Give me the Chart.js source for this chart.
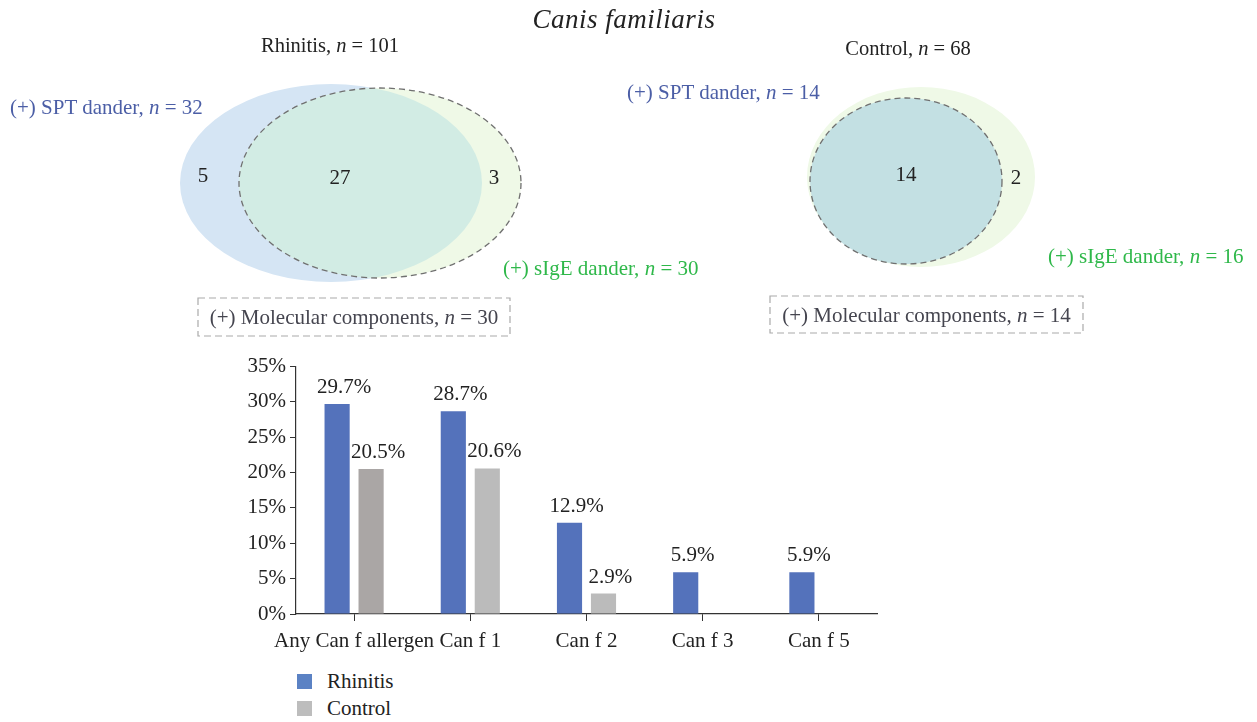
<!DOCTYPE html>
<html>
<head>
<meta charset="utf-8">
<script src="https://cdn.jsdelivr.net/npm/chart.js@4.4.1/dist/chart.umd.min.js"></script>
<style>
body { margin: 0; background: #fff; font-family: "Liberation Serif", serif; }
#page { position: relative; width: 1257px; height: 722px; overflow: hidden; }
.lbl { position: absolute; white-space: nowrap; font-size: 21px; line-height: 1; transform: translateY(-50%); }
.ctr { transform: translate(-50%, -50%); }
.spt { color: #4b5ea6; }
.sige { color: #2fb84a; }
.mol { color: #45454f; }
.grp { color: #222; font-size: 20.5px; }
#title { font-style: italic; font-size: 27px; color: #222; letter-spacing: 0.5px; }
#vennCanvas { position: absolute; left: 0; top: 0; }
#barWrap { position: absolute; left: 230px; top: 350px; width: 660px; height: 310px; }
#legend { position: absolute; left: 297px; top: 668px; font-size: 21px; color: #222; }
.leg-item { display: flex; align-items: center; height: 27px; }
.leg-box { width: 15px; height: 15px; margin-right: 15px; }
</style>
</head>
<body>
<div id="page">
  <canvas id="vennCanvas" width="1257" height="345"></canvas>
  <div id="labels"></div>
  <div id="barWrap"><canvas id="barChart"></canvas></div>
  <div id="legend"></div>
</div>
<script>
// Venn counts
const groups = ["Rhinitis", "Control"];
const groupN = [101, 68];
const sptN = [32, 14];
const sigeN = [30, 16];
const molecularN = [30, 14];
const sptOnly = [5, null];
const sptAndSige = [27, 14];
const sigeOnly = [3, 2];

// bar chart data
const allergens = ["Any Can f allergen", "Can f 1", "Can f 2", "Can f 3", "Can f 5"];
const rhinitisPct = [29.7, 28.7, 12.9, 5.9, 5.9];
const controlPct = [20.5, 20.6, 2.9, 0, 0];
const yTickValues = [0, 5, 10, 15, 20, 25, 30, 35];

const blue = "#5472bb";
const controlColors = ["#aaa6a5", "#bbbbbb", "#bbbbbb", "#bbbbbb", "#bbbbbb"];

// layout of the two venn diagrams (pixels)
const vennLayout = [
  {
    outer: { cx: 331, cy: 183, rx: 151, ry: 99, fill: "#d5e5f4" },
    inner: { cx: 380, cy: 183, rx: 141, ry: 95, fill: "#eff9e7" },
    overlapFill: "#d2ece4",
    countPos: [[203, 176], [340, 178], [494, 178]],
    title: [330, 45], spt: [10, 107], sige: [503, 268],
    box: { x: 198, y: 298, w: 312, h: 38 }
  },
  {
    outer: { cx: 921, cy: 177, rx: 114, ry: 90, fill: "#eff9e7" },
    inner: { cx: 906, cy: 181, rx: 96, ry: 83, fill: "#c3e0e3" },
    overlapFill: null,
    countPos: [[0, 0], [906, 175], [1016, 178]],
    title: [908, 48], spt: [627, 92], sige: [1048, 256],
    box: { x: 770, y: 296, w: 313, h: 37 }
  }
];

function addLabel(html, x, y, cls, centered) {
  const d = document.createElement("div");
  d.className = "lbl " + cls + (centered ? " ctr" : "");
  d.style.left = x + "px";
  d.style.top = y + "px";
  d.innerHTML = html;
  document.getElementById("labels").appendChild(d);
  return d;
}

addLabel("Canis familiaris", 624, 19, "", true).id = "title";

groups.forEach(function (g, i) {
  const L = vennLayout[i];
  addLabel(g + ", <i>n</i> = " + groupN[i], L.title[0], L.title[1], "grp", true);
  addLabel("(+) SPT dander, <i>n</i> = " + sptN[i], L.spt[0], L.spt[1], "spt", false);
  addLabel("(+) sIgE dander, <i>n</i> = " + sigeN[i], L.sige[0], L.sige[1], "sige", false);
  addLabel("(+) Molecular components, <i>n</i> = " + molecularN[i],
    L.box.x + L.box.w / 2, L.box.y + L.box.h / 2, "mol", true);
});

function ellipsePath(ctx, xs, ys, e) {
  const cx = xs.getPixelForValue(e.cx), cy = ys.getPixelForValue(e.cy);
  const rx = Math.abs(xs.getPixelForValue(e.cx + e.rx) - cx);
  const ry = Math.abs(ys.getPixelForValue(e.cy + e.ry) - cy);
  ctx.beginPath();
  ctx.ellipse(cx, cy, rx, ry, 0, 0, Math.PI * 2);
}

const vennPlugin = {
  id: "venn",
  afterDatasetsDraw(chart) {
    const ctx = chart.ctx, xs = chart.scales.x, ys = chart.scales.y;
    vennLayout.forEach(function (L, i) {
      ctx.save();
      ellipsePath(ctx, xs, ys, L.outer);
      ctx.fillStyle = L.outer.fill; ctx.fill();
      ellipsePath(ctx, xs, ys, L.inner);
      ctx.fillStyle = L.inner.fill; ctx.fill();
      if (L.overlapFill) {
        ctx.save();
        ellipsePath(ctx, xs, ys, L.outer);
        ctx.clip();
        ellipsePath(ctx, xs, ys, L.inner);
        ctx.fillStyle = L.overlapFill; ctx.fill();
        ctx.restore();
      }
      ellipsePath(ctx, xs, ys, L.inner);
      ctx.setLineDash([6, 4]);
      ctx.lineWidth = 1.3;
      ctx.strokeStyle = "#707070";
      ctx.stroke();

      // molecular components box
      const b = L.box;
      const bx = xs.getPixelForValue(b.x), by = ys.getPixelForValue(b.y);
      const bw = xs.getPixelForValue(b.x + b.w) - bx, bh = ys.getPixelForValue(b.y + b.h) - by;
      ctx.strokeStyle = "#aaaaaa";
      ctx.lineWidth = 1.2;
      ctx.setLineDash([7, 4]);
      ctx.strokeRect(bx, by, bw, bh);
      ctx.setLineDash([]);

      // counts
      const counts = [sptOnly[i], sptAndSige[i], sigeOnly[i]];
      ctx.fillStyle = "#222";
      ctx.font = "21px 'Liberation Serif'";
      ctx.textAlign = "center";
      ctx.textBaseline = "middle";
      counts.forEach(function (c, k) {
        if (c === null) return;
        ctx.fillText(String(c), xs.getPixelForValue(L.countPos[k][0]), ys.getPixelForValue(L.countPos[k][1]));
      });
      ctx.restore();
    });
  }
};

new Chart(document.getElementById("vennCanvas"), {
  type: "scatter",
  data: { datasets: [{ data: [] }] },
  options: {
    responsive: false,
    animation: false,
    events: [],
    layout: { padding: 0 },
    plugins: { legend: { display: false }, tooltip: { enabled: false } },
    scales: {
      x: { type: "linear", min: 0, max: 1257, display: false },
      y: { type: "linear", min: 0, max: 345, reverse: true, display: false }
    }
  },
  plugins: [vennPlugin]
});

const barLabelPlugin = {
  id: "barLabels",
  afterDatasetsDraw(chart) {
    const ctx = chart.ctx;
    ctx.save();
    ctx.font = "21px 'Liberation Serif'";
    ctx.fillStyle = "#222";
    ctx.textAlign = "center";
    ctx.textBaseline = "bottom";
    chart.data.datasets.forEach(function (ds, di) {
      chart.getDatasetMeta(di).data.forEach(function (bar, i) {
        const v = ds.data[i];
        if (!v) return;
        ctx.fillText(v.toFixed(1) + "%", bar.x + 7, bar.y - 6);
      });
    });
    ctx.restore();
  }
};

const barChart = new Chart(document.getElementById("barChart"), {
  type: "bar",
  data: {
    labels: allergens,
    datasets: [
      { label: "Rhinitis", data: rhinitisPct, backgroundColor: blue, legendColor: "#5b82c4" },
      { label: "Control", data: controlPct, backgroundColor: controlColors, legendColor: "#bdbdbd" }
    ]
  },
  options: {
    responsive: true,
    maintainAspectRatio: false,
    animation: false,
    events: [],
    layout: { padding: { top: 15, right: 13, left: 0, bottom: 0 } },
    datasets: { bar: { categoryPercentage: 0.585, barPercentage: 0.74 } },
    plugins: { legend: { display: false }, tooltip: { enabled: false } },
    scales: {
      x: {
        grid: { offset: false, drawOnChartArea: false, drawTicks: true, tickLength: 7, color: "#333" },
        border: { display: true, color: "#333", width: 1.2 },
        ticks: { color: "#222", font: { family: "Liberation Serif", size: 21 }, padding: 8, maxRotation: 0, autoSkip: false },
        afterFit: function (s) { s.height = 46; }
      },
      y: {
        min: 0, max: 35,
        afterBuildTicks: function (s) { s.ticks = yTickValues.map(function (v) { return { value: v }; }); },
        grid: { drawOnChartArea: false, drawTicks: true, tickLength: 6, color: "#333" },
        border: { display: true, color: "#333", width: 1.2 },
        ticks: { color: "#222", font: { family: "Liberation Serif", size: 21 }, padding: 4,
          callback: function (v) { return v + "%"; } },
        afterFit: function (s) { s.width = 66; }
      }
    }
  },
  plugins: [barLabelPlugin]
});

// legend
const legend = document.getElementById("legend");
barChart.data.datasets.forEach(function (ds) {
  const item = document.createElement("div");
  item.className = "leg-item";
  item.innerHTML = '<span class="leg-box" style="background:' + ds.legendColor + '"></span>' + ds.label;
  legend.appendChild(item);
});
</script>
</body>
</html>
